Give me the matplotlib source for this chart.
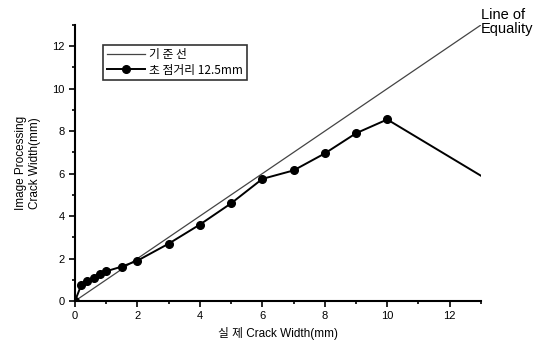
import matplotlib.pyplot as plt
from matplotlib.ticker import MultipleLocator

plt.rcParams['font.family'] = ['Liberation Sans', 'Noto Sans CJK KR', 'DejaVu Sans']

# equality line
eq_x = [0, 13]
eq_y = [0, 13]

# measured series (focal distance 12.5mm)
actual = [0, 0.2, 0.4, 0.6, 0.8, 1.0, 1.5, 2, 3, 4, 5, 6, 7, 8, 9, 10]
measured = [0, 0.75, 0.95, 1.1, 1.25, 1.4, 1.62, 1.9, 2.7, 3.6, 4.6, 5.75, 6.15, 6.95, 7.9, 8.55]
tail_x = [10, 13]
tail_y = [8.55, 5.9]

fig = plt.figure(figsize=(5.49, 3.47), dpi=100)
ax = fig.add_axes([0.1366, 0.1326, 0.7394, 0.7954])

ax.plot(eq_x, eq_y, color='#444444', lw=0.9, label='기 준 선')
ax.plot(actual, measured, color='black', lw=1.4, marker='o', ms=5.5, label='초 점거리 12.5mm')
ax.plot(tail_x, tail_y, color='black', lw=1.4)

ax.set_xlim(0, 13)
ax.set_ylim(0, 13)
ax.xaxis.set_major_locator(MultipleLocator(2))
ax.xaxis.set_minor_locator(MultipleLocator(1))
ax.yaxis.set_major_locator(MultipleLocator(2))
ax.yaxis.set_minor_locator(MultipleLocator(1))
ax.tick_params(which='both', direction='out', labelsize=8, width=1.2)
ax.tick_params(which='major', length=4)
ax.tick_params(which='minor', length=2.5)
for s in ['top', 'right']:
    ax.spines[s].set_visible(False)
for s in ['left', 'bottom']:
    ax.spines[s].set_linewidth(1.5)

ax.set_xlabel('실 제 Crack Width(mm)', fontsize=8.5)
ax.set_ylabel('Image Processing\nCrack Width(mm)', fontsize=8.5, labelpad=8)

ax.text(13.0, 13.15, 'Line of\nEquality', fontsize=10.5, va='center', ha='left',
        linespacing=0.95, clip_on=False)

leg = ax.legend(loc='upper left', bbox_to_anchor=(0.055, 0.95), fontsize=8.5,
                frameon=True, fancybox=False, edgecolor='black', handlelength=3.2,
                borderpad=0.3, labelspacing=0.2, handletextpad=0.4)
leg.get_frame().set_linewidth(1.2)
for t in leg.get_texts():
    t.set_family(['Noto Sans CJK KR', 'Liberation Serif'])

fig.savefig('out.png', dpi=100)
